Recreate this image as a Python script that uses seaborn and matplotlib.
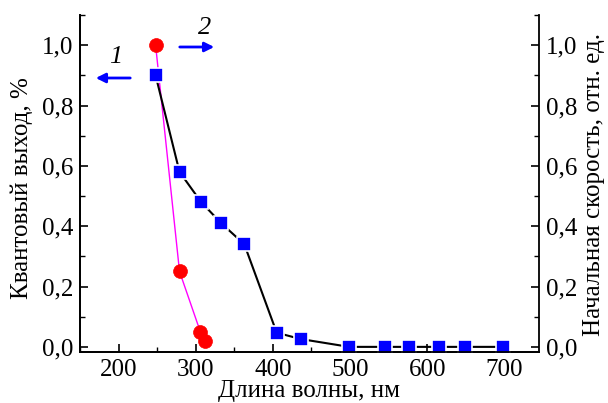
import matplotlib
matplotlib.use("Agg")
import matplotlib.pyplot as plt
from matplotlib.ticker import MultipleLocator, FuncFormatter
import seaborn as sns
import pandas as pd

# Curve 1: quantum yield (left axis)
wl1 = [248, 279, 306, 312]
qy = [1.0, 0.25, 0.05, 0.02]
# Curve 2: initial rate (right axis)
wl2 = [248, 279, 307, 333, 363, 405, 436, 499, 545, 577, 615, 649, 698]
rate = [0.90, 0.58, 0.48, 0.41, 0.34, 0.047, 0.026, 0.0, 0.0, 0.0, 0.0, 0.0, 0.0]

xlabel = "Длина волны, нм"
ylabel_left = "Квантовый выход, %"
ylabel_right = "Начальная скорость, отн. ед."

sns.set_style("ticks")
plt.rcParams['font.family'] = ['Liberation Serif', 'DejaVu Serif']
plt.rcParams['text.color'] = 'black'
plt.rcParams['axes.labelcolor'] = 'black'
plt.rcParams['xtick.color'] = 'black'
plt.rcParams['ytick.color'] = 'black'
plt.rcParams['axes.edgecolor'] = 'black'

fig = plt.figure(figsize=(6.08, 4.03), dpi=100)
ax = fig.add_axes([80/608, 1-352/403, (539-80)/608, (352-15)/403])
ax2 = ax.twinx()

df1 = pd.DataFrame({"x": wl1, "y": qy})
df2 = pd.DataFrame({"x": wl2, "y": rate})

sns.lineplot(data=df1, x="x", y="y", ax=ax, color="magenta", lw=1.0,
             marker="o", markersize=10, markerfacecolor="red",
             markeredgecolor="red", markeredgewidth=0.5, sort=False)
sns.lineplot(data=df2, x="x", y="y", ax=ax2, color="black", lw=1.5,
             marker="s", markersize=10, markerfacecolor="blue",
             markeredgecolor="white", markeredgewidth=1.2, sort=False)

fmt = FuncFormatter(lambda v, p: f"{v:.1f}".replace(".", ","))
for a in (ax, ax2):
    a.set_xlim(150, 745)
    a.set_ylim(-0.017, 1.1)
    a.yaxis.set_major_locator(MultipleLocator(0.2))
    a.yaxis.set_minor_locator(MultipleLocator(0.1))
    a.yaxis.set_major_formatter(fmt)
    a.spines['top'].set_visible(False)
    a.set_ylabel("")
    for s in a.spines.values():
        s.set_linewidth(1.3)
        s.set_color('black')
ax.xaxis.set_major_locator(MultipleLocator(100))
ax.xaxis.set_minor_locator(MultipleLocator(50))
ax.tick_params(axis='both', which='major', direction='in', length=6, width=1.2,
               labelsize=18, pad=5, colors='black')
ax.tick_params(axis='both', which='minor', direction='in', length=3.5, width=1.0)
ax.tick_params(axis='y', right=False)
ax2.tick_params(axis='y', which='major', direction='in', length=6, width=1.2,
                labelsize=18, pad=5, colors='black')
ax2.tick_params(axis='y', which='minor', direction='in', length=3.5, width=1.0)
ax.spines['right'].set_visible(False)

ax.set_xlabel(xlabel, fontsize=18, labelpad=-1)
ax2.set_xlabel("")
fig.text(22/608, 1-188/403, ylabel_left, fontsize=18, rotation=90,
         ha='center', va='center', rotation_mode='anchor')
fig.text(594/608, 1-184/403, ylabel_right, fontsize=18, rotation=90,
         ha='center', va='center', rotation_mode='anchor')

# arrows and curve labels
ax.annotate("", xy=(93/608, 1-78/403), xytext=(133/608, 1-78/403),
            xycoords='figure fraction',
            arrowprops=dict(arrowstyle="-|>", color="blue", lw=2,
                            mutation_scale=14))
ax.annotate("", xy=(217/608, 1-47/403), xytext=(177/608, 1-47/403),
            xycoords='figure fraction',
            arrowprops=dict(arrowstyle="-|>", color="blue", lw=2,
                            mutation_scale=14))
fig.text(116/608, 1-57/403, "1", fontsize=19, style='italic',
         ha='center', va='center')
fig.text(205/608, 1-28/403, "2", fontsize=19, style='italic',
         ha='center', va='center')

fig.savefig("out.png", dpi=100)
